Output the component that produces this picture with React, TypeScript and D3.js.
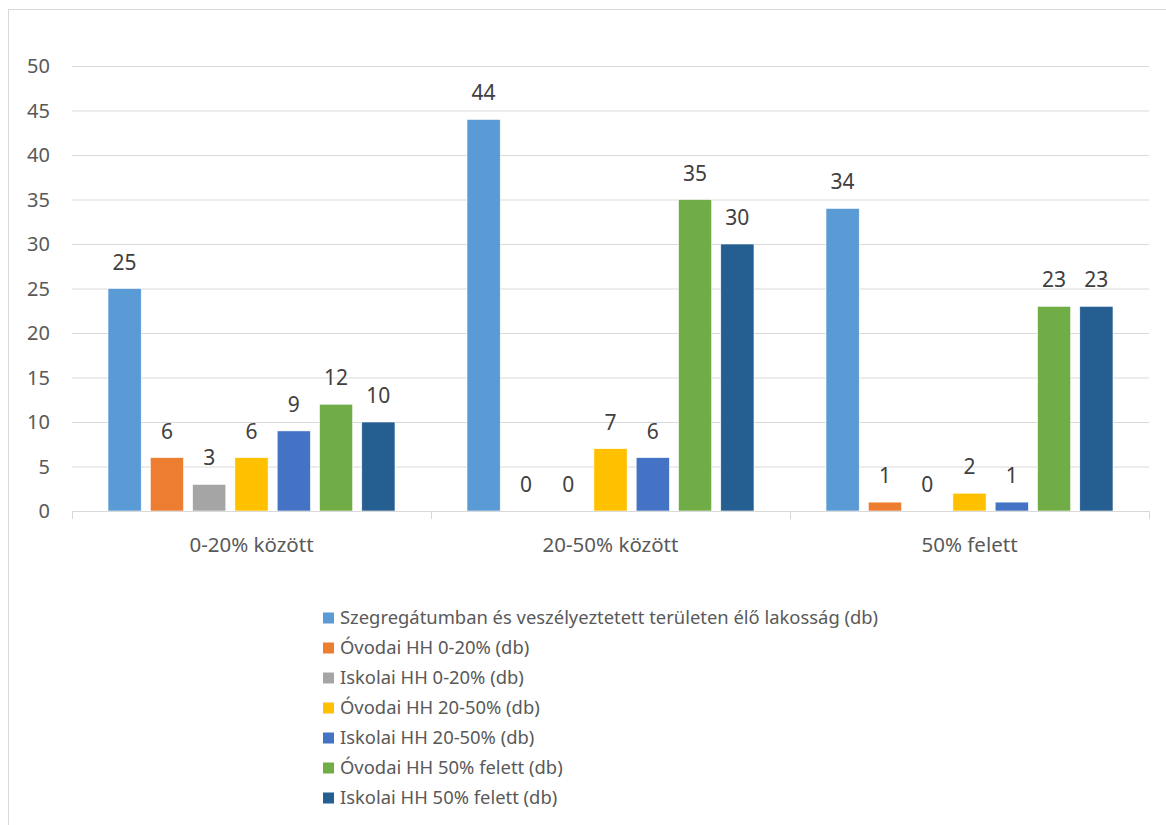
import React from "react";
import * as d3 from "d3";

const categories = ["0-20% között", "20-50% között", "50% felett"];
const seriesNames = [
  "Szegregátumban és veszélyeztetett területen élő lakosság (db)",
  "Óvodai HH 0-20% (db)",
  "Iskolai HH 0-20% (db)",
  "Óvodai HH 20-50% (db)",
  "Iskolai HH 20-50% (db)",
  "Óvodai HH 50% felett (db)",
  "Iskolai HH 50% felett (db)",
];
const seriesValues = [
  [25, 44, 34],
  [6, 0, 1],
  [3, 0, 0],
  [6, 7, 2],
  [9, 6, 1],
  [12, 35, 23],
  [10, 30, 23],
];
const colors = ["#5B9BD5", "#ED7D31", "#A5A5A5", "#FFC000", "#4472C4", "#70AD47", "#255E91"];
const yTicks = [0, 5, 10, 15, 20, 25, 30, 35, 40, 45, 50];

const FONT = "'Noto Sans', 'Open Sans', sans-serif";
const TEXT = "#595959";

export default function App() {
  const W = 1166, H = 825;
  const left = 72, right = 1149, top = 66, bottom = 511;
  const x0 = d3.scaleBand<string>().domain(categories).range([left, right]).padding(0);
  const inner = d3
    .scaleBand<number>()
    .domain(d3.range(seriesNames.length))
    .range([36, x0.bandwidth() - 36])
    .paddingInner(9 / 42)
    .paddingOuter(0);
  const y = d3.scaleLinear().domain([0, 50]).range([bottom, top]);

  return (
    <svg width={W} height={H} style={{ position: "absolute", left: 0, top: 0 }}>
      <rect x={0} y={0} width={W} height={H} fill="#fff" />
      <rect x={8.5} y={9.5} width={W + 10} height={H + 10} fill="none" stroke="#D9D9D9" strokeWidth={1} />
      {yTicks.map((t) => (
        <g key={t}>
          {t > 0 && <line x1={left} x2={right} y1={y(t) + 0.5} y2={y(t) + 0.5} stroke="#D9D9D9" strokeWidth={1} />}
          <text x={50} y={y(t)} dy="0.35em" textAnchor="end" fontFamily={FONT} fontSize={20} fill={TEXT}>
            {t}
          </text>
        </g>
      ))}
      {categories.map((c, ci) => (
        <g key={c}>
          {seriesValues.map((vals, si) => {
            const v = vals[ci];
            const bx = (x0(c) as number) + (inner(si) as number);
            const bw = inner.bandwidth();
            return (
              <g key={si}>
                {v > 0 && (
                  <rect x={bx} y={y(v)} width={bw} height={bottom - y(v)} fill={colors[si]} stroke="#fff" strokeWidth={0.6} />
                )}
                <text x={bx + bw / 2} y={y(v) - 19} textAnchor="middle" fontFamily={FONT} fontSize={21} fill="#404040">
                  {v}
                </text>
              </g>
            );
          })}
          <text
            x={(x0(c) as number) + x0.bandwidth() / 2}
            y={545}
            dy="0.35em"
            textAnchor="middle"
            fontFamily={FONT}
            fontSize={20.5}
            fill={TEXT}
          >
            {c}
          </text>
        </g>
      ))}
      <line x1={left} x2={right} y1={bottom + 0.5} y2={bottom + 0.5} stroke="#D9D9D9" strokeWidth={1} />
      {[...categories.map((c) => x0(c) as number), right].map((tx, i) => (
        <line key={i} x1={tx + 0.5} x2={tx + 0.5} y1={bottom} y2={bottom + 8} stroke="#D9D9D9" strokeWidth={1} />
      ))}
      {seriesNames.map((s, i) => (
        <g key={s} transform={`translate(323, ${618 + i * 30})`}>
          <rect x={0} y={-5.5} width={11} height={11} fill={colors[i]} />
          <text x={17} y={0} dy="0.35em" fontFamily={FONT} fontSize={18.4} fill={TEXT}>
            {s}
          </text>
        </g>
      ))}
    </svg>
  );
}
